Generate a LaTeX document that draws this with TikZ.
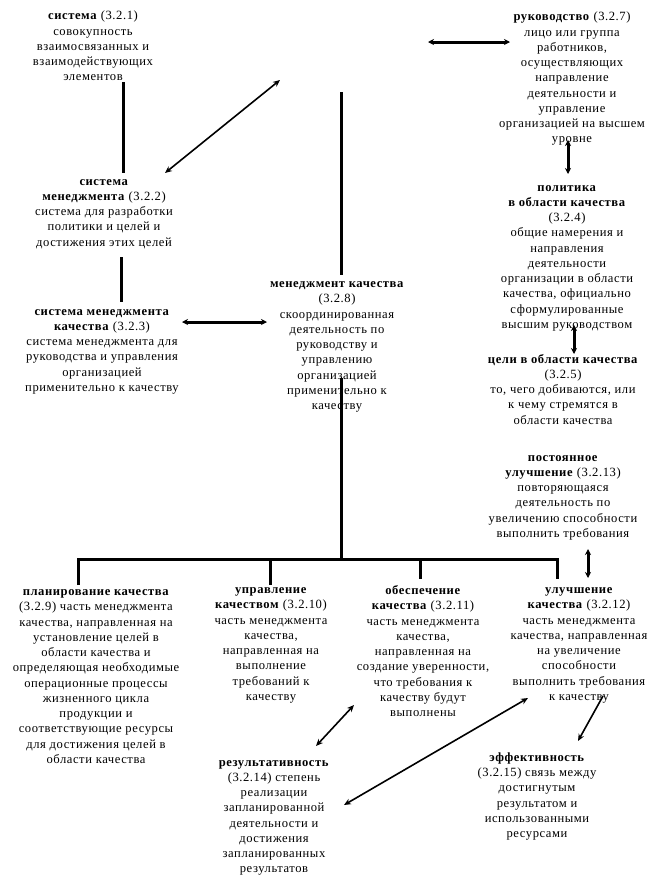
\documentclass[tikz,border=0pt]{standalone}
\usepackage{fontspec}
\setmainfont[LetterSpace=4.5]{Liberation Serif}
\usetikzlibrary{arrows.meta}
\tikzset{
  txt/.style={anchor=north, align=center, inner sep=0pt,
    font=\fontsize{12.6}{15.25}\selectfont, execute at begin node=\strut},
  barline/.style={line width=3pt},
  dblthick/.style={line width=3pt, {Stealth[length=6pt,width=6pt]}-{Stealth[length=6pt,width=6pt]}},
  dblthin/.style={line width=1.6pt, {Stealth[length=7pt,width=6pt]}-{Stealth[length=7pt,width=6pt]}},
  onethin/.style={line width=1.6pt, -{Stealth[length=7pt,width=6pt]}}
}
\begin{document}
\begin{tikzpicture}[x=1pt,y=-1pt]
\useasboundingbox (0,0) rectangle (658,876);
% text nodes
\node[txt] (sys) at (93,11) {\textbf{система} (3.2.1)\\совокупность\\взаимосвязанных и\\взаимодействующих\\элементов};
\node[txt] (sm) at (104,179) {\textbf{система}\\\textbf{менеджмента} (3.2.2)\\система для разработки\\политики и целей и\\достижения этих целей};
\node[txt] (smk) at (102,309) {\textbf{система менеджмента}\\\textbf{качества} (3.2.3)\\система менеджмента для\\руководства и управления\\организацией\\применительно к качеству};
\node[txt] (mk) at (337,281.5) {\textbf{менеджмент качества}\\(3.2.8)\\скоординированная\\деятельность по\\руководству и\\управлению\\организацией\\применительно к\\качеству};
\node[txt] (ruk) at (572,12) {\textbf{руководство} (3.2.7)\\лицо или группа\\работников,\\осуществляющих\\направление\\деятельности и\\управление\\организацией на высшем\\уровне};
\node[txt] (pol) at (567,185) {\textbf{политика}\\\textbf{в области качества}\hspace{6pt}\\(3.2.4)\hspace{38pt}\\общие намерения и\\направления\\деятельности\\организации в области\\качества, официально\\сформулированные\\высшим руководством};
\node[txt] (cel) at (563,354) {\textbf{цели в области качества}\\(3.2.5)\\то, чего добиваются, или\\к чему стремятся в\\области качества};
\node[txt] (post) at (563,455) {\textbf{постоянное}\\\textbf{улучшение} (3.2.13)\\повторяющаяся\\деятельность по\\увеличению способности\\выполнить требования};
\node[txt] (plan) at (96,589.5) {\textbf{планирование качества}\\(3.2.9) часть менеджмента\\качества, направленная на\\установление целей в\\области качества и\\определяющая необходимые\\операционные процессы\\жизненного цикла\\продукции и\\соответствующие ресурсы\\для достижения целей в\\области качества};
\node[txt] (upr) at (271,587.5) {\textbf{управление}\\\textbf{качеством} (3.2.10)\\часть менеджмента\\качества,\\направленная на\\выполнение\\требований к\\качеству};
\node[txt] (obes) at (423,585.5) {\textbf{обеспечение}\\\textbf{качества} (3.2.11)\\часть менеджмента\\качества,\\направленная на\\создание уверенности,\\что требования к\\качеству будут\\выполнены};
\node[txt] (ul) at (579,587.5) {\textbf{улучшение}\\\textbf{качества} (3.2.12)\\часть менеджмента\\качества, направленная\\на увеличение\\способности\\выполнить требования\\к качеству};
\node[txt] (rez) at (274,760) {\textbf{результативность}\\(3.2.14) степень\\реализации\\запланированной\\деятельности и\\достижения\\запланированных\\результатов};
\node[txt] (eff) at (537,752.5) {\textbf{эффективность}\\(3.2.15) связь между\\достигнутым\\результатом и\\использованными\\ресурсами};
% connector end points
\coordinate (l1a) at (123,82);   \coordinate (l1b) at (123,173);
\coordinate (l2a) at (121,257);  \coordinate (l2b) at (121,302);
\coordinate (l3a) at (341,92);   \coordinate (l3b) at (341,275);
\coordinate (l4a) at (341,378);  \coordinate (l4b) at (341,559);
\coordinate (bl) at (78,559);    \coordinate (br) at (557,559);
\coordinate (d1) at (78,585);    \coordinate (d2t) at (270,559); \coordinate (d2) at (270,585);
\coordinate (d3t) at (420,559);  \coordinate (d3) at (420,579);  \coordinate (d4) at (557,579);
\coordinate (h1a) at (428,42);   \coordinate (h1b) at (510,42);
\coordinate (h2a) at (182,322);  \coordinate (h2b) at (267,322);
\coordinate (v1a) at (568,140);  \coordinate (v1b) at (568,174);
\coordinate (v2a) at (574,325);  \coordinate (v2b) at (574,354);
\coordinate (v3a) at (588,549);  \coordinate (v3b) at (588,578);
\coordinate (g1a) at (165,173);  \coordinate (g1b) at (280,80);
\coordinate (g2a) at (316,746);  \coordinate (g2b) at (354,705);
\coordinate (g3a) at (344,805);  \coordinate (g3b) at (528,698);
\coordinate (g4a) at (603,696);  \coordinate (g4b) at (578,741);
% lines
\draw[barline] (l1a) -- (l1b);
\draw[barline] (l2a) -- (l2b);
\draw[barline] (l3a) -- (l3b);
\draw[barline] (l4a) -- (l4b);
\draw[barline] (d1) -- (bl) -- (br) -- (d4);
\draw[barline] (d2t) -- (d2);
\draw[barline] (d3t) -- (d3);
% arrows
\draw[dblthick] (h1a) -- (h1b);
\draw[dblthick] (h2a) -- (h2b);
\draw[dblthick] (v1a) -- (v1b);
\draw[dblthick] (v2a) -- (v2b);
\draw[dblthick] (v3a) -- (v3b);
\draw[dblthin] (g1a) -- (g1b);
\draw[dblthin] (g2a) -- (g2b);
\draw[dblthin] (g3a) -- (g3b);
\draw[onethin] (g4a) -- (g4b);
\end{tikzpicture}
\end{document}
